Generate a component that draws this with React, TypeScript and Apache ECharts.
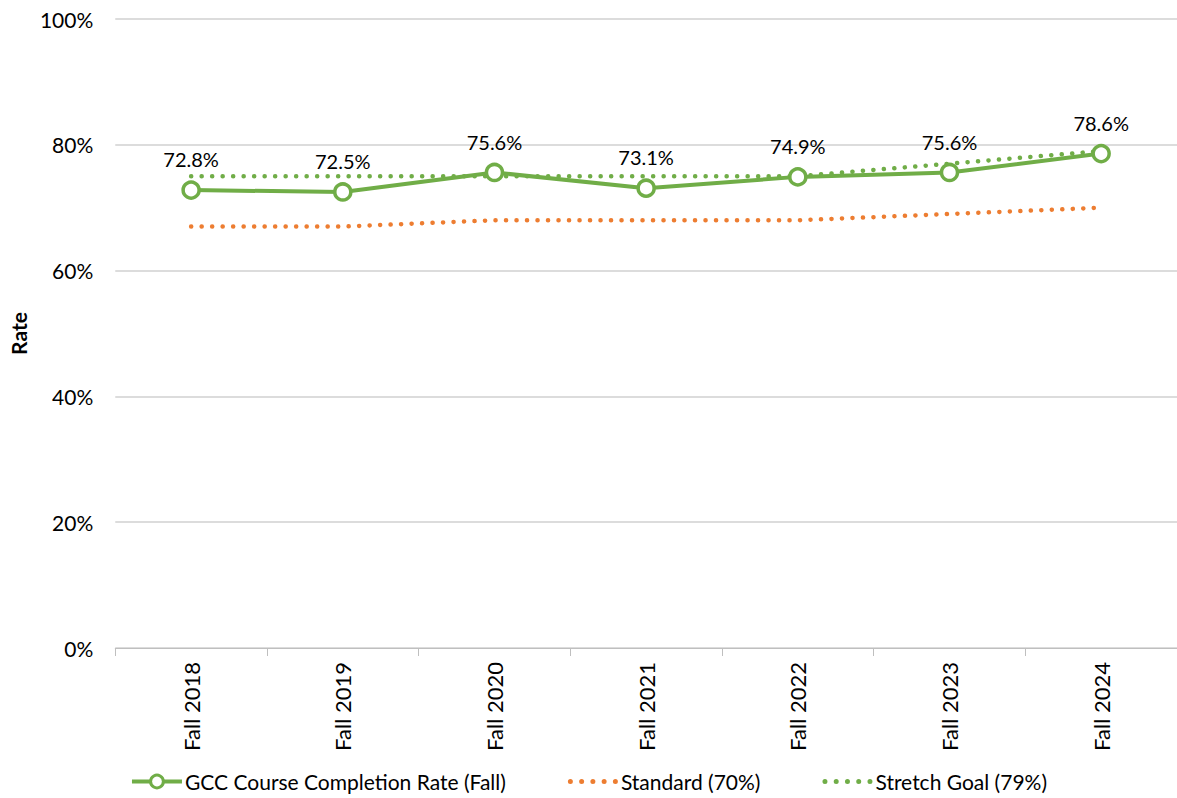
import React, { useEffect, useRef } from "react";
import * as echarts from "echarts";

const categories = ["Fall 2018", "Fall 2019", "Fall 2020", "Fall 2021", "Fall 2022", "Fall 2023", "Fall 2024"];
const completionRate = [72.8, 72.5, 75.6, 73.1, 74.9, 75.6, 78.6];
const standard = [67, 67, 68, 68, 68, 69, 70];
const stretchGoal = [75, 75, 75, 75, 75, 77, 79];
const yTicks = [0, 20, 40, 60, 80, 100];

const FONT = "Lato, 'Open Sans', sans-serif";
const GREEN = "#70AD47";
const ORANGE = "#ED7D31";

const dotsIcon =
  "path://" +
  [2, 11, 20, 29, 38]
    .map((x) => `M${x - 2},2a2,2 0 1,0 4,0a2,2 0 1,0 -4,0Z`)
    .join("");

export default function App() {
  const ref = useRef<HTMLDivElement>(null);
  useEffect(() => {
    if (!ref.current) return;
    const chart = echarts.init(ref.current, null, { renderer: "svg" });
    chart.setOption({
      animation: false,
      textStyle: { fontFamily: FONT },
      grid: { left: 112, top: 19, width: 1069, height: 629, containLabel: false },
      legend: {
        top: 766,
        left: "center",
        itemWidth: 50,
        itemHeight: 16,
        itemGap: 62,
        symbolKeepAspect: true,
        textStyle: { fontFamily: FONT, fontSize: 21, color: "#000", padding: [0, 0, 0, -2] },
        data: [
          {
            name: "GCC Course Completion Rate (Fall)",
            lineStyle: { width: 4, color: GREEN },
            itemStyle: { color: "#fff", borderColor: GREEN, borderWidth: 3 },
          },
          { name: "Standard (70%)", icon: dotsIcon },
          { name: "Stretch Goal (79%)", icon: dotsIcon },
        ],
      },
      xAxis: {
        type: "category",
        data: categories,
        boundaryGap: true,
        axisLine: { lineStyle: { color: "#BFBFBF", width: 1 } },
        axisTick: { show: true, length: 8, lineStyle: { color: "#BFBFBF" } },
        axisLabel: {
          rotate: 90,
          fontFamily: FONT,
          fontSize: 22,
          color: "#000",
          margin: 14,
        },
      },
      yAxis: {
        type: "value",
        min: 0,
        max: 100,
        interval: 20,
        name: "Rate",
        nameLocation: "middle",
        nameGap: 86,
        nameRotate: 90,
        nameTextStyle: { fontFamily: FONT, fontSize: 21, fontWeight: "bold", color: "#000" },
        axisLine: { show: false },
        axisTick: { show: false },
        axisLabel: {
          fontFamily: FONT,
          fontSize: 21,
          color: "#000",
          margin: 22,
          formatter: (v: number) => (yTicks.includes(v) ? v + "%" : ""),
        },
        splitLine: { lineStyle: { color: "#D0D0D0", width: 1.5 } },
      },
      series: [
        {
          name: "Standard (70%)",
          type: "line",
          data: standard,
          symbol: "none",
          lineStyle: { color: ORANGE, width: 4.5, type: [0.1, 10.4], cap: "round" },
          itemStyle: { color: ORANGE },
          z: 2,
        },
        {
          name: "Stretch Goal (79%)",
          type: "line",
          data: stretchGoal,
          symbol: "none",
          lineStyle: { color: GREEN, width: 4.5, type: [0.1, 10.4], cap: "round" },
          itemStyle: { color: GREEN },
          z: 2,
        },
        {
          name: "GCC Course Completion Rate (Fall)",
          type: "line",
          data: completionRate,
          symbol: "circle",
          symbolSize: 16,
          lineStyle: { color: GREEN, width: 4 },
          itemStyle: { color: "#fff", borderColor: GREEN, borderWidth: 3.5 },
          label: {
            show: true,
            position: "top",
            distance: 11,
            fontFamily: FONT,
            fontSize: 20,
            color: "#000",
            formatter: (p: any) => p.value.toFixed(1) + "%",
          },
          z: 3,
        },
      ],
    });
    return () => chart.dispose();
  }, []);
  return (
    <div
      ref={ref}
      style={{ position: "fixed", left: 0, top: 0, width: 1177, height: 798, background: "#fff" }}
    />
  );
}
